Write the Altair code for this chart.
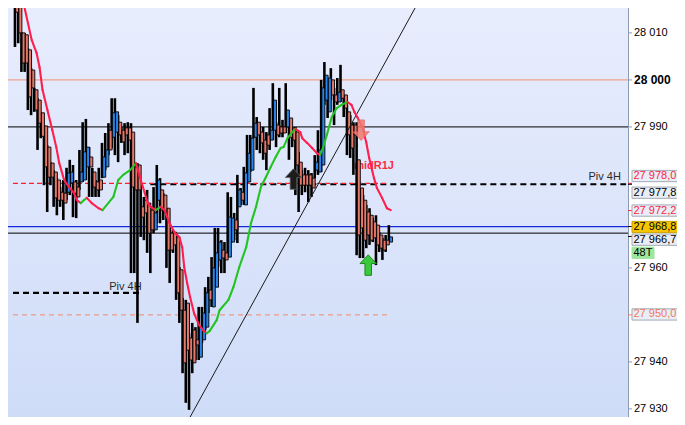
import altair as alt
import pandas as pd

# ---------------- data ----------------
highs = [28021.0, 28021.0, 28010.2, 28010.0, 28006.8, 28002.5, 27998.3, 27996.1, 27993.2, 27990.4,
         27986.1, 27982.5, 27980.8, 27979.1, 27977.2, 27978.7, 27981.3, 27983.0, 27981.9, 27978.7,
         27985.1, 27991.0, 27991.7, 27985.7, 27981.3, 27978.7, 27981.3, 27986.6, 27988.7, 27990.8,
         27996.1, 27996.1, 27992.5, 27990.0, 27990.8, 27991.0, 27990.8, 27982.5, 27982.3, 27978.1,
         27975.1, 27976.6, 27973.0, 27977.2, 27981.9, 27979.1, 27975.9, 27972.7, 27968.5, 27968.1,
         27967.0, 27960.2, 27953.6, 27953.2, 27946.1, 27948.3, 27947.4, 27951.7, 27951.7, 27955.9,
         27958.1, 27962.3, 27968.5, 27968.5, 27965.9, 27965.5, 27976.1, 27975.1, 27971.7, 27979.8,
         27977.0, 27981.5, 27988.3, 27988.3, 27998.3, 27992.1, 27990.0, 27990.0, 27988.9, 27994.0,
         27999.3, 27991.0, 27998.3, 27991.5, 27999.3, 27991.9, 27990.0, 27990.0, 27984.7, 27980.8,
         27981.3, 27980.8, 27980.2, 27984.0, 27989.3, 28000.0, 28003.8, 28000.4, 28002.5, 27998.3,
         28000.4, 28003.2, 27996.8, 27994.7, 27992.5, 27991.0, 27991.0, 27977.0, 27975.5, 27973.4,
         27972.7, 27970.6, 27971.2, 27967.6, 27966.4, 27967.0, 27969.1]
lows = [28007.0, 28007.8, 28001.7, 28001.7, 27993.6, 27992.5, 27993.2, 27985.1, 27987.6, 27977.6,
        27971.9, 27977.6, 27973.0, 27971.2, 27973.0, 27970.2, 27974.4, 27975.5, 27970.8, 27970.6,
        27976.6, 27978.3, 27978.7, 27975.1, 27975.1, 27975.1, 27975.1, 27979.1, 27980.8, 27984.0,
        27985.5, 27984.0, 27982.5, 27986.6, 27984.0, 27984.4, 27958.9, 27958.9, 27948.3, 27966.6,
        27965.9, 27963.2, 27958.9, 27967.4, 27969.5, 27969.5, 27970.2, 27960.0, 27956.8, 27963.2,
        27953.2, 27948.3, 27937.6, 27931.3, 27929.8, 27937.6, 27940.4, 27940.4, 27944.0, 27946.8,
        27950.4, 27951.7, 27955.9, 27960.2, 27958.9, 27958.9, 27962.3, 27965.3, 27965.9, 27965.3,
        27973.4, 27973.4, 27978.1, 27980.4, 27987.6, 27985.1, 27984.4, 27983.0, 27980.8, 27985.1,
        27987.2, 27985.7, 27987.8, 27987.8, 27988.7, 27983.0, 27985.7, 27975.5, 27971.9, 27975.5,
        27976.1, 27974.0, 27975.1, 27979.1, 27979.8, 27980.4, 27994.7, 27991.9, 27995.7, 27990.4,
        27994.7, 27995.3, 27992.1, 27984.0, 27983.4, 27979.8, 27962.7, 27962.1, 27962.1, 27964.2,
        27964.9, 27965.5, 27960.6, 27963.4, 27961.7, 27963.4, 27965.5]
opens = [28018.0, 28018.0, 28010.0, 28009.6, 28006.4, 28002.1, 27997.9, 27995.7, 27993.0, 27990.2,
         27985.7, 27982.3, 27980.4, 27978.7, 27976.1, 27975.9, 27976.1, 27978.1, 27978.3, 27977.2,
         27978.3, 27978.7, 27981.5, 27983.6, 27980.4, 27978.3, 27978.7, 27979.3, 27981.5, 27989.3,
         27987.8, 27988.9, 27991.0, 27989.3, 27989.8, 27989.8, 27988.9, 27981.5, 27981.9, 27973.0,
         27974.4, 27973.8, 27972.3, 27968.1, 27974.4, 27976.6, 27975.5, 27972.7, 27967.4, 27967.6,
         27966.6, 27959.6, 27951.0, 27952.5, 27945.1, 27946.8, 27944.7, 27941.0, 27944.7, 27947.4,
         27955.3, 27951.7, 27955.9, 27961.7, 27963.8, 27963.2, 27962.3, 27965.5, 27970.2, 27973.0,
         27976.1, 27973.4, 27978.3, 27980.8, 27987.8, 27991.0, 27988.9, 27987.2, 27988.3, 27987.2,
         27989.3, 27990.4, 27990.0, 27990.0, 27990.0, 27991.9, 27989.8, 27988.9, 27982.5, 27979.8,
         27979.8, 27979.8, 27979.1, 27980.8, 27980.4, 27981.9, 27995.7, 27993.2, 28000.0, 27996.8,
         27995.3, 27997.9, 27996.8, 27993.2, 27990.4, 27990.4, 27983.0, 27977.0, 27974.4, 27971.9,
         27971.2, 27969.8, 27969.1, 27967.0, 27965.9, 27965.9, 27965.5]
closes = [28014.4, 28010.0, 28003.6, 28003.6, 27996.4, 27998.3, 27993.6, 27990.8, 27988.0, 27981.5,
          27979.3, 27979.3, 27974.9, 27974.4, 27974.4, 27973.8, 27980.2, 27980.4, 27975.9, 27975.1,
          27980.4, 27984.7, 27985.7, 27981.5, 27977.2, 27976.6, 27976.6, 27983.6, 27985.1, 27985.1,
          27993.0, 27993.2, 27988.3, 27986.8, 27988.3, 27987.2, 27977.2, 27976.6, 27976.6, 27970.8,
          27971.7, 27967.4, 27968.1, 27971.7, 27978.7, 27972.3, 27971.7, 27963.8, 27963.8, 27964.9,
          27954.7, 27951.0, 27939.8, 27942.5, 27940.4, 27939.8, 27943.6, 27947.4, 27950.4, 27954.7,
          27953.2, 27960.0, 27963.2, 27965.5, 27962.1, 27961.7, 27970.8, 27970.6, 27968.1, 27976.6,
          27974.4, 27980.2, 27984.4, 27987.6, 27990.8, 27988.3, 27986.6, 27984.4, 27986.1, 27989.3,
          27995.7, 27988.3, 27988.7, 27988.7, 27993.6, 27987.8, 27987.2, 27981.9, 27977.6, 27977.6,
          27977.6, 27977.6, 27977.0, 27982.5, 27985.1, 27998.3, 28001.0, 28000.4, 27996.8, 27995.3,
          27997.4, 27996.1, 27994.0, 27988.3, 27985.5, 27988.3, 27967.0, 27968.5, 27965.9, 27967.0,
          27965.9, 27966.4, 27964.9, 27964.2, 27963.8, 27964.9, 27966.6]

ma_idx = [1.22, 2.44, 5.19, 6.72, 7.63, 8.55, 10.07, 11.6, 12.82, 13.74,
          15.26, 16.79, 18.32, 19.23, 20.45, 21.37, 22.28, 23.81, 25.95, 27.17,
          30.53, 32.05, 33.58, 35.71, 37.55, 38.77, 40.29, 41.21, 42.12, 43.65,
          45.18, 46.4, 47.92, 49.45, 50.98, 51.89, 52.5, 53.42, 54.33, 55.56,
          57.08, 58.3, 59.52, 60.44, 62.58, 63.49, 66.24, 67.77, 69.6, 71.73,
          73.26, 74.79, 76.31, 77.84, 79.37, 80.89, 82.42, 83.33, 84.55, 86.08,
          87.0, 88.52, 89.13, 90.66, 92.19, 93.71, 94.63, 95.54, 96.76, 98.29,
          99.82, 101.34, 103.17, 104.4, 105.3, 106.2, 107.75, 108.97, 109.9, 111.4,
          112.3, 113.9, 115.4, 116.6]
ma_val = [28021.3, 28017.0, 28008.5, 28005.7, 28002.7, 27997.9, 27993.6, 27989.3, 27985.7, 27982.3,
          27978.7, 27977.2, 27975.9, 27974.4, 27973.8, 27974.4, 27974.9, 27973.8, 27972.7, 27972.3,
          27975.1, 27978.7, 27979.8, 27980.8, 27982.3, 27979.3, 27975.9, 27973.8, 27973.0, 27972.3,
          27973.0, 27972.3, 27969.6, 27967.6, 27966.6, 27964.4, 27960.2, 27956.8, 27953.8, 27950.4,
          27947.9, 27946.8, 27946.1, 27946.6, 27948.9, 27951.0, 27953.2, 27955.9, 27960.2, 27964.4,
          27969.6, 27973.0, 27977.2, 27979.3, 27981.5, 27983.6, 27985.5, 27985.7, 27987.6, 27988.9,
          27989.6, 27988.9, 27987.6, 27986.6, 27985.5, 27984.4, 27984.0, 27985.5, 27988.3, 27992.1,
          27994.0, 27994.7, 27995.3, 27994.7, 27993.2, 27992.1, 27990.0, 27986.8, 27983.4, 27979.1,
          27977.0, 27974.9, 27972.7, 27972.3]

trend_idx = [53.0, 125.5]
trend_val = [27926.6, 28017.0]

full_levels = [28000.0, 27990.0, 27968.8, 27967.4]
full_colors = ["#f0906c", "#000000", "#1428e0", "#000000"]
full_widths = [1.0, 1.0, 1.3, 1.0]

piv_levels = [27977.8, 27954.7]
piv_from = [42.0, -0.6]
piv_to = [189.6, 39.6]

red_dash_level, red_dash_to = 27978.0, 116.0
orange_dash_level, orange_dash_to = 27950.0, 116.0

tag_labels = ["27 978,0", "27 977,8", "27 972,2", "27 968,8", "27 966,7", "48T", "27 950,0"]
tag_pos = [27979.55, 27976.0, 27972.2, 27968.7, 27966.0, 27963.2, 27950.1]
tag_text_col = ["#ff1f3d", "#000000", "#ff1f3d", "#000000", "#000000", "#000000", "#f07a5a"]
tag_fill = ["#e8edf6", "#e8edf6", "#e8edf6", "#f6c500", "#e8edf6", "#9ee69e", "#e8edf6"]
tag_stroke = ["#a2aab6", "#a2aab6", "#a2aab6", "#c9a000", "#a2aab6", "#9ee69e", "#a2aab6"]
tag_width = [50, 50, 50, 50, 50, 22, 50]

tick_levels = [27978.0, 27977.8, 27972.2, 27968.8, 27966.7, 27950.0]
tick_cols = ["#ff1f3d", "#000000", "#ff1f3d", "#000000", "#000000", "#f07a5a"]

axis_values = [27930, 27940, 27960, 27990, 28000, 28010]
axis_labels = ["27 930", "27 940", "27 960", "27 990", "28 000", "28 010"]
axis_bold = [False, False, False, False, True, False]

# ---------------- layout ----------------
W, H = 620, 409
PX_PER_BAR = 3.276
X_DOM = [-0.61, -0.61 + W / PX_PER_BAR]
Y_DOM = [27928.28, 28015.30]
xs = alt.Scale(domain=X_DOM, nice=False, zero=False)
ys = alt.Scale(domain=Y_DOM, nice=False, zero=False)
FONT = "Liberation Sans"
AXIS_GREY = "#8c9bb0"

bars = pd.DataFrame({"i": list(range(len(highs))), "high": highs, "low": lows,
                     "open": opens, "close": closes})
bars["col"] = ["#2a84ea" if c > o else "#e4786a" for o, c in zip(opens, closes)]

seg_rows = []
for k in range(len(ma_idx) - 1):
    col = "#22c422" if ma_val[k + 1] > ma_val[k] else "#ff1e4e"
    seg_rows.append({"seg": k, "i": ma_idx[k], "v": ma_val[k], "c": col})
    seg_rows.append({"seg": k, "i": ma_idx[k + 1], "v": ma_val[k + 1], "c": col})
ma_df = pd.DataFrame(seg_rows)

one = pd.DataFrame({"a": [0]})

bg = alt.Chart(one).mark_rect(
    color=alt.Gradient(gradient="linear",
                       stops=[alt.GradientStop(color="#e8edfd", offset=0),
                              alt.GradientStop(color="#cfdcf8", offset=1)],
                       x1=0, x2=0, y1=0, y2=1)
).encode(x=alt.value(0), x2=alt.value(W), y=alt.value(0), y2=alt.value(H))

full_df = pd.DataFrame({"p": full_levels, "c": full_colors, "w": full_widths})
full_lines = alt.Chart(full_df).mark_rule().encode(
    y=alt.Y("p:Q", scale=ys, axis=None),
    color=alt.Color("c:N", scale=None),
    strokeWidth=alt.StrokeWidth("w:Q", scale=None),
)

piv_df = pd.DataFrame({"p": piv_levels, "a": piv_from, "b": piv_to})
piv_lines = alt.Chart(piv_df).mark_rule(color="black", strokeWidth=2.2, strokeDash=[6, 4], clip=True).encode(
    x=alt.X("a:Q", scale=xs, axis=None), x2="b:Q", y=alt.Y("p:Q", scale=ys, axis=None))

red_df = pd.DataFrame({"p": [red_dash_level], "a": [X_DOM[0]], "b": [red_dash_to]})
red_line = alt.Chart(red_df).mark_rule(color="#ff1f2f", strokeWidth=1.3, strokeDash=[5, 3], clip=True).encode(
    x=alt.X("a:Q", scale=xs, axis=None), x2="b:Q", y=alt.Y("p:Q", scale=ys, axis=None))

or_df = pd.DataFrame({"p": [orange_dash_level], "a": [X_DOM[0]], "b": [orange_dash_to]})
or_line = alt.Chart(or_df).mark_rule(color="#f08a66", strokeWidth=1, strokeDash=[5, 4], clip=True).encode(
    x=alt.X("a:Q", scale=xs, axis=None), x2="b:Q", y=alt.Y("p:Q", scale=ys, axis=None))

texts_df = pd.DataFrame({"i": [111.4], "p": [27981.7], "t": ["midR1J"]})
mid_text = alt.Chart(texts_df).mark_text(font=FONT, fontSize=11, fontWeight="bold", color="#ff2a40",
                                         baseline="middle").encode(
    x=alt.X("i:Q", scale=xs, axis=None), y=alt.Y("p:Q", scale=ys, axis=None), text="t:N")

piv_txt_df = pd.DataFrame({"i": [188.0, 39.3], "p": [27979.3, 27955.9], "t": ["Piv 4H", "Piv 4H"]})
piv_txt = alt.Chart(piv_txt_df).mark_text(font=FONT, fontSize=11, color="#2a2a2a", align="right",
                                          baseline="middle").encode(
    x=alt.X("i:Q", scale=xs, axis=None), y=alt.Y("p:Q", scale=ys, axis=None), text="t:N")

wicks = alt.Chart(bars).mark_rule(color="black", strokeWidth=2.6, clip=True).encode(
    x=alt.X("i:Q", scale=xs, axis=None), y=alt.Y("low:Q", scale=ys, axis=None), y2="high:Q")

bodies = alt.Chart(bars).mark_bar(size=3.0, xOffset=2.2, stroke="black", strokeWidth=0.9, clip=True).encode(
    x=alt.X("i:Q", scale=xs, axis=None), y=alt.Y("open:Q", scale=ys, axis=None), y2="close:Q",
    fill=alt.Fill("col:N", scale=None))

trend_df = pd.DataFrame({"i": trend_idx, "v": trend_val})
trend = alt.Chart(trend_df).mark_line(color="#1a1a1a", strokeWidth=1, clip=True).encode(
    x=alt.X("i:Q", scale=xs, axis=None), y=alt.Y("v:Q", scale=ys, axis=None))

ma = alt.Chart(ma_df).mark_line(strokeWidth=2.1, strokeCap="round", strokeJoin="round", clip=True).encode(
    x=alt.X("i:Q", scale=xs, axis=None), y=alt.Y("v:Q", scale=ys, axis=None),
    color=alt.Color("c:N", scale=None), detail="seg:N", order="i:Q")

UP = "M0,-1L0.8,-0.15L0.32,-0.15L0.32,1L-0.32,1L-0.32,-0.15L-0.8,-0.15Z"
DOWN = "M0,1L0.8,0.15L0.32,0.15L0.32,-1L-0.32,-1L-0.32,0.15L-0.8,0.15Z"
arr_black = alt.Chart(pd.DataFrame({"i": [86.4], "p": [27978.9]})).mark_point(
    shape=UP, size=420, filled=True, fill="#1c1c1c", stroke="#606060", strokeWidth=0.8, opacity=1).encode(
    x=alt.X("i:Q", scale=xs, axis=None), y=alt.Y("p:Q", scale=ys, axis=None))
arr_green = alt.Chart(pd.DataFrame({"i": [109.6], "p": [27960.6]})).mark_point(
    shape=UP, size=420, filled=True, fill="#3cc83c", stroke="#1e8a1e", strokeWidth=1, opacity=1).encode(
    x=alt.X("i:Q", scale=xs, axis=None), y=alt.Y("p:Q", scale=ys, axis=None))
arr_red = alt.Chart(pd.DataFrame({"i": [107.4], "p": [27989.3]})).mark_point(
    shape=DOWN, size=420, filled=True, fill="#f07a6e", stroke="#e25a5a", strokeWidth=0.8, opacity=0.85).encode(
    x=alt.X("i:Q", scale=xs, axis=None), y=alt.Y("p:Q", scale=ys, axis=None))

# right-hand price axis
axis_domain = alt.Chart(one).mark_rule(color=AXIS_GREY, strokeWidth=1).encode(
    x=alt.value(W + 0.5), y=alt.value(0), y2=alt.value(H))
ax_df = pd.DataFrame({"v": axis_values, "t": axis_labels, "b": axis_bold})
ax_df["l"] = W
ax_df["r"] = W + 4
axis_ticks = alt.Chart(ax_df).mark_rule(color=AXIS_GREY, strokeWidth=1).encode(
    x=alt.X("l:Q", scale=None, axis=None), x2="r:Q", y=alt.Y("v:Q", scale=ys, axis=None))
axis_text = alt.Chart(ax_df).transform_filter("!datum.b").mark_text(
    font=FONT, fontSize=11, align="left", baseline="middle", dx=6, color="black").encode(
    x=alt.X("l:Q", scale=None, axis=None), y=alt.Y("v:Q", scale=ys, axis=None), text="t:N")
axis_text_b = alt.Chart(ax_df).transform_filter("datum.b").mark_text(
    font=FONT, fontSize=12, fontWeight="bold", align="left", baseline="middle", dx=6, color="black").encode(
    x=alt.X("l:Q", scale=None, axis=None), y=alt.Y("v:Q", scale=ys, axis=None), text="t:N")

tick_df = pd.DataFrame({"p": tick_levels, "c": tick_cols})
tick_df["l"] = W
tick_df["r"] = W + 4
ticks = alt.Chart(tick_df).mark_rule(strokeWidth=1).encode(
    x=alt.X("l:Q", scale=None, axis=None), x2="r:Q", y=alt.Y("p:Q", scale=ys, axis=None),
    color=alt.Color("c:N", scale=None))

tag_df = pd.DataFrame({"t": tag_labels, "p": tag_pos, "tc": tag_text_col, "f": tag_fill,
                       "s": tag_stroke, "wd": tag_width})
tag_df["y1"] = tag_df["p"] - 1.2
tag_df["y2"] = tag_df["p"] + 1.2
tag_df["l"] = W + 4
tag_df["r"] = W + 4 + tag_df["wd"]
tag_boxes = alt.Chart(tag_df).mark_rect(strokeWidth=1).encode(
    x=alt.X("l:Q", scale=None, axis=None), x2="r:Q",
    y=alt.Y("y1:Q", scale=ys, axis=None), y2="y2:Q",
    fill=alt.Fill("f:N", scale=None), stroke=alt.Stroke("s:N", scale=None))
tag_text = alt.Chart(tag_df).mark_text(font=FONT, fontSize=11, align="left", baseline="middle", dx=1.5).encode(
    x=alt.X("l:Q", scale=None, axis=None), y=alt.Y("p:Q", scale=ys, axis=None), text="t:N",
    color=alt.Color("tc:N", scale=None))

chart = alt.layer(
    bg, full_lines, or_line, piv_lines, red_line, mid_text, piv_txt,
    wicks, bodies, trend, ma, arr_black, arr_green, arr_red,
    axis_domain, axis_ticks, axis_text, axis_text_b,
    ticks, tag_boxes, tag_text
).properties(
    width=W, height=H, autosize="none",
    padding={"left": 0, "top": 0, "right": 49, "bottom": 0}
).configure_view(stroke=None)

chart.save("out.html", embed_options={"renderer": "svg", "actions": False})
